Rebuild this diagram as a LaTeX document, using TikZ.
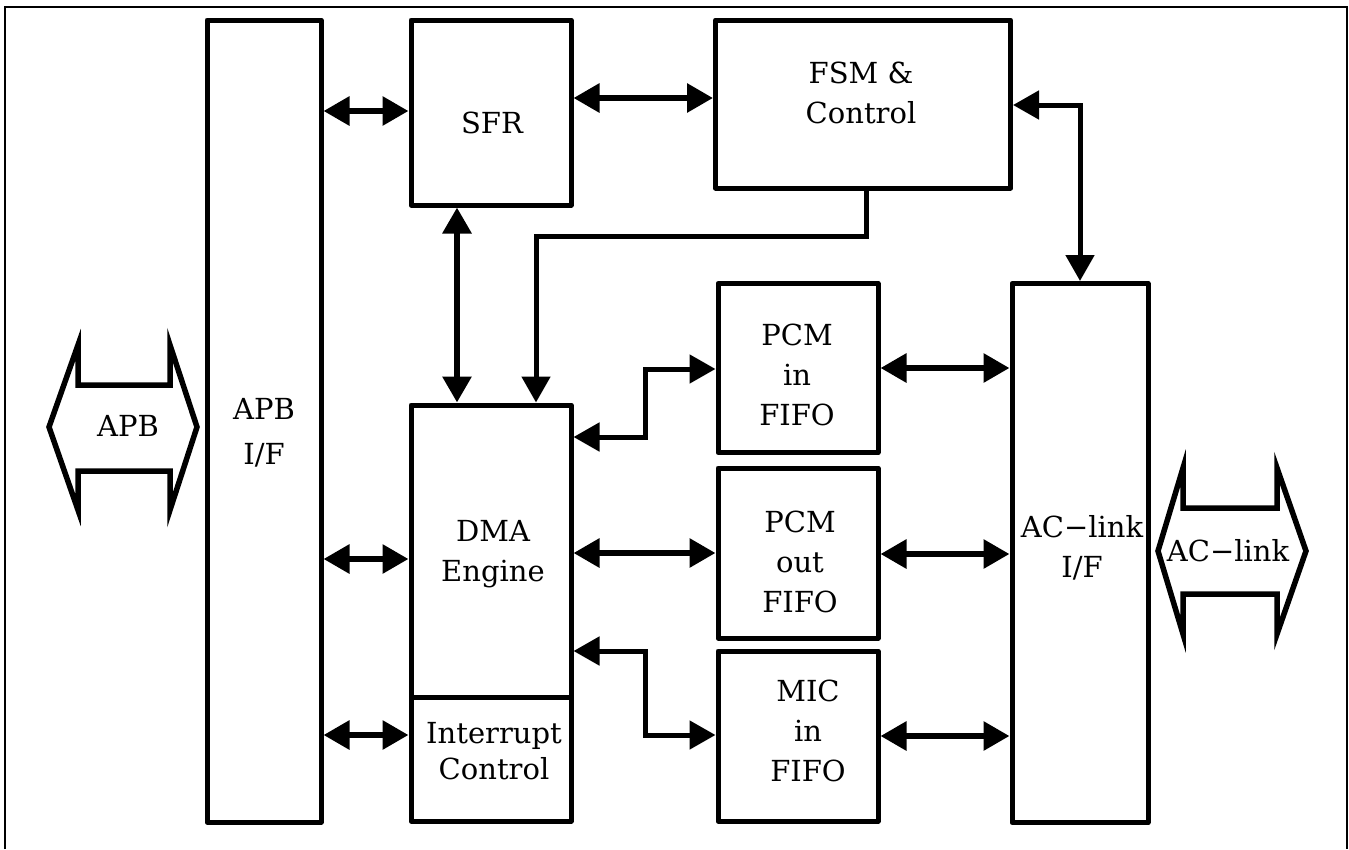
\documentclass[tikz,border=0pt]{standalone}
\usepackage{fontspec}
\setmainfont{DejaVu Serif}
\usetikzlibrary{arrows.meta}
\begin{document}
\begin{tikzpicture}[x=1pt,y=-1pt,
  box/.style={draw, line width=5pt, line join=round, inner sep=0pt},
  lbl/.style={align=center, inner sep=0pt, font=\fontsize{29}{40}\selectfont},
  bigtip/.tip={Triangle[length=26pt,width=28pt]},
  link/.style={line width=6pt, bigtip-bigtip},
  elbow/.style={line width=5pt, bigtip-bigtip},
  feed/.style={line width=5pt, -bigtip},
  bus/.style={line width=5.5pt, line join=miter, miter limit=12},
  frame/.style={line width=2pt}
]
\useasboundingbox (0,0) rectangle (1349,849);
% outer frame (no bottom edge)
\draw[frame] (5,849) -- (5,7) -- (1347,7) -- (1347,849);

% boxes
\node[box, minimum width=114pt, minimum height=802pt] (apbif)  at (264,421) {};
\node[box, minimum width=160pt, minimum height=185pt] (sfr)    at (491,112.5) {};
\node[box, minimum width=295pt, minimum height=168pt] (fsm)    at (863,104) {};
\node[box, minimum width=160pt, minimum height=292pt] (dma)    at (491,551) {};
\node[box, minimum width=160pt, minimum height=124pt] (intr)   at (491,759) {};
\node[box, minimum width=160pt, minimum height=169pt] (pcmin)  at (798,368) {};
\node[box, minimum width=160pt, minimum height=170pt] (pcmout) at (798,553) {};
\node[box, minimum width=160pt, minimum height=170pt] (micin)  at (798,736) {};
\node[box, minimum width=136pt, minimum height=539pt] (aclink) at (1080,553) {};

% labels
\node[lbl, font=\fontsize{29}{45}\selectfont] (tapbif) at (264,433) {APB\\I/F};
\node[lbl] (tsfr)   at (492,123) {SFR};
\node[lbl] (tfsm)   at (861,93)  {FSM \&\\Control};
\node[lbl] (tdma)   at (493,554) {DMA\\Engine};
\node[lbl, font=\fontsize{29}{36}\selectfont] (tintr)  at (494,751) {Interrupt\\Control};
\node[lbl] (tpcmin) at (797,375) {PCM\\in\\FIFO};
\node[lbl] (tpcmout) at (800,562) {PCM\\out\\FIFO};
\node[lbl] (tmicin) at (808,731) {MIC\\in\\FIFO};
\node[lbl] (taclink) at (1082,548) {AC−link\\I/F};

% bus block arrows
\draw[bus] (170,345) -- (197,427) -- (170,510) -- (170,471) -- (78,471) -- (78,510)
  -- (49,427) -- (78,345) -- (78,385) -- (170,385) -- cycle;
\node[lbl] (tapb) at (128,426) {APB};
\draw[bus] (1277,468) -- (1306,551) -- (1277,634) -- (1277,594) -- (1183,594) -- (1183,634)
  -- (1158,551) -- (1183,468) -- (1183,508) -- (1277,508) -- cycle;
\node[lbl] (tacl) at (1228,551) {AC−link};

% connectors
\draw[link] (apbif.east |- 0,111) -- (sfr.west |- 0,111);
\draw[link] (apbif.east |- 0,559) -- (dma.west |- 0,559);
\draw[link] (apbif.east |- 0,735) -- (intr.west |- 0,735);
\draw[link] (sfr.east |- 0,98) -- (fsm.west |- 0,98);
\draw[link] (sfr.south -| 457,0) -- (dma.north -| 457,0);
\draw[feed] (fsm.south -| 866,0) -- (866,236) -- (536,236) -- (dma.north -| 536,0);
\draw[elbow] (fsm.east |- 0,105) -- (1080,105) -- (aclink.north -| 1080,0);
\draw[elbow] (dma.east |- 0,437) -- (645,437) -- (645,369) -- (pcmin.west |- 0,369);
\draw[link] (dma.east |- 0,553) -- (pcmout.west |- 0,553);
\draw[elbow] (dma.east |- 0,651) -- (645,651) -- (645,735) -- (micin.west |- 0,735);
\draw[link] (pcmin.east |- 0,368) -- (aclink.west |- 0,368);
\draw[link] (pcmout.east |- 0,554) -- (aclink.west |- 0,554);
\draw[link] (micin.east |- 0,736) -- (aclink.west |- 0,736);
\end{tikzpicture}
\end{document}
